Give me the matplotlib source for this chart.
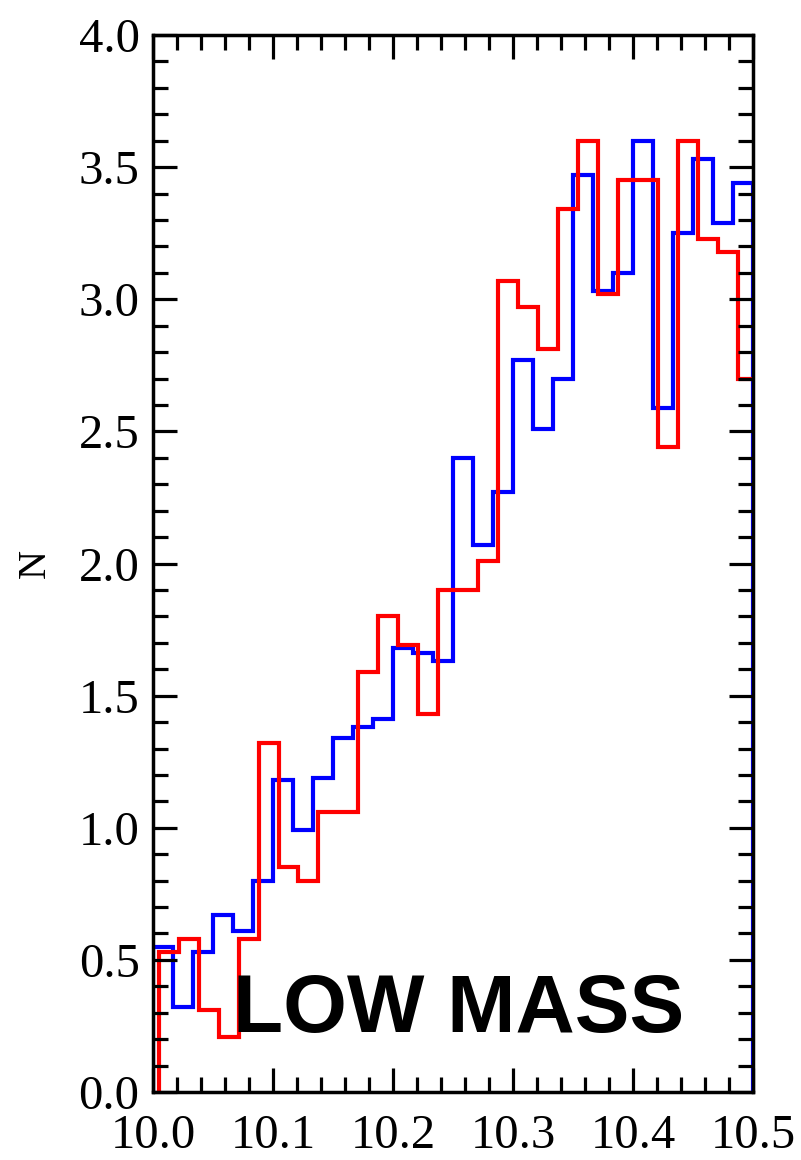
import numpy as np
import matplotlib.pyplot as plt
from matplotlib.ticker import MultipleLocator

# histogram heights, 30 bins over 10.0 - 10.5
blue_n = [0.55, 0.32, 0.53, 0.67, 0.61, 0.80, 1.18, 0.99, 1.19, 1.34,
          1.38, 1.41, 1.68, 1.66, 1.63, 2.40, 2.07, 2.27, 2.77, 2.51,
          2.70, 3.47, 3.03, 3.10, 3.60, 2.59, 3.25, 3.53, 3.29, 3.44]
red_n = [0.53, 0.58, 0.31, 0.21, 0.58, 1.32, 0.85, 0.80, 1.06, 1.06,
         1.59, 1.80, 1.69, 1.43, 1.90, 1.90, 2.01, 3.07, 2.97, 2.81,
         3.34, 3.60, 3.02, 3.45, 3.45, 2.44, 3.60, 3.23, 3.18, 2.70]

edges = np.linspace(10.0, 10.5, 31)
red_shift = 0.0042

plt.rcParams['font.family'] = 'Liberation Serif'

fig = plt.figure(figsize=(8.01, 11.6), dpi=100)
ax = fig.add_axes([0.1916, 0.0586, 0.749, 0.9112])

ax.stairs(blue_n, edges, color='blue', lw=3.0)
ax.stairs(red_n, edges + red_shift, color='red', lw=3.0)

ax.set_xlim(10.0, 10.5)
ax.set_ylim(0, 4.0)

ax.xaxis.set_major_locator(MultipleLocator(0.1))
ax.xaxis.set_minor_locator(MultipleLocator(0.02))
ax.yaxis.set_major_locator(MultipleLocator(0.5))
ax.yaxis.set_minor_locator(MultipleLocator(0.1))
ax.xaxis.set_major_formatter(lambda v, p: f'{v:.1f}')
ax.yaxis.set_major_formatter(lambda v, p: f'{v:.1f}')

ax.tick_params(which='both', direction='in', top=True, right=True, width=2.3)
ax.tick_params(which='major', length=17, labelsize=35)
ax.tick_params(which='minor', length=11)
ax.tick_params(axis='x', which='major', pad=16)
ax.tick_params(axis='y', which='major', pad=10)
for s in ax.spines.values():
    s.set_linewidth(2.5)

ax.set_ylabel('N', fontsize=29, labelpad=18)

ax.text(0.508, 0.057, 'LOW MASS', transform=ax.transAxes, ha='center',
        va='baseline', fontsize=59, fontweight='bold', family='Liberation Sans')

fig.savefig('out.png', dpi=100)
